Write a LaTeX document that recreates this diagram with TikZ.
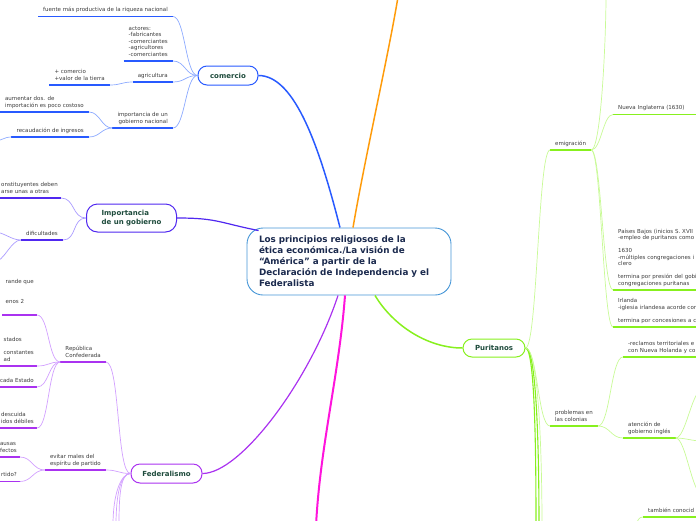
\documentclass[tikz,border=0pt]{standalone}
\usepackage{fontspec}
\setmainfont{DejaVu Sans}
\definecolor{rootblue}{RGB}{70,150,215}
\definecolor{rootnavy}{RGB}{27,42,78}
\definecolor{nodegreen}{RGB}{30,75,60}
\definecolor{leafgray}{RGB}{60,60,60}
\definecolor{comblue}{RGB}{40,90,255}
\definecolor{comlight}{RGB}{140,170,255}
\definecolor{govindigo}{RGB}{80,40,240}
\definecolor{govlight}{RGB}{170,155,255}
\definecolor{fedpurple}{RGB}{170,50,240}
\definecolor{fedlight}{RGB}{210,160,255}
\definecolor{purgreen}{RGB}{135,240,30}
\definecolor{purlight}{RGB}{200,250,150}
\definecolor{linkorange}{RGB}{255,155,10}
\definecolor{linkmagenta}{RGB}{255,20,220}

\begin{document}
\begin{tikzpicture}[x=1pt,y=-1pt,
  leaf/.style={inner xsep=5pt,inner ysep=2.5pt,align=left,text=leafgray,
    font=\fontsize{5.5}{6.5}\selectfont,execute at end node=\strut},
  leftcut/.style={leaf,anchor=south east,inner xsep=3pt},
  branchbox/.style={draw,fill=white,line width=1pt,rounded corners=9pt,minimum height=19pt,
    text=nodegreen,font=\fontsize{7}{9}\selectfont\bfseries},
  rootbox/.style={draw=rootblue,fill=white,line width=0.9pt,rounded corners=16pt,
    minimum width=204pt,minimum height=67pt,text width=180pt,inner xsep=12pt,align=left,
    text=rootnavy,font=\fontsize{8.8}{11}\selectfont\bfseries},
  ul/.style={line width=1.8pt},
  conn/.style={line width=0.7pt},
  mainline/.style={line width=1.5pt},
  lcurve/.style={to path={.. controls +(-#1,0) and +(#1,0) .. (\tikztotarget) \tikztonodes}},
  lcurve/.default=12,
  rcurve/.style={to path={.. controls +(#1,0) and +(-#1,0) .. (\tikztotarget) \tikztonodes}},
  rcurve/.default=12]
\useasboundingbox (0,0) rectangle (696,520);
\clip (0,0) rectangle (696,520);

%--- nodo centrale ---
\node[rootbox] (root) at (349,261.5) {Los principios religiosos de la\\ética económica./La visión de\\“América” a partir de la\\Declaración de Independencia y el\\Federalista};

%--- comercio ---
\node[branchbox,draw=comblue,minimum width=60pt] (comercio) at (228,75.5) {comercio};
\node[leaf,anchor=south east] (fuente) at (173,16.5) {fuente más productiva de la riqueza nacional};
\node[leaf,anchor=south east] (actores) at (173,61) {actores:\\-fabricantes\\-comerciantes\\-agricultores\\-comerciantes};
\node[leaf,anchor=south east] (agricultura) at (173,82) {agricultura};
\node[leaf,anchor=south east] (tierra) at (110,85) {+ comercio\\+valor de la tierra};
\node[leaf,anchor=south east,align=right] (gobnac) at (173,128) {importancia de un\\gobierno nacional};
\node[leaf,anchor=south east] (arancel) at (89,112) {aumentar dos. de\\importación es poco costoso};
\node[leaf,anchor=south east] (recaudacion) at (89,137) {recaudación de ingresos};
\coordinate (recaudOut) at (-6,141);

\foreach \leafname in {fuente,actores,agricultura,tierra,gobnac,arancel,recaudacion}
  \draw[ul,comblue] (\leafname.south west) -- (\leafname.south east);
\foreach \leafname in {fuente,actores,agricultura,gobnac}
  \draw[conn,comlight] (comercio.west) to[lcurve] (\leafname.south east);
\draw[conn,comlight] (agricultura.south west) to[lcurve=11] (tierra.south east);
\draw[conn,comlight] (gobnac.south west) to[lcurve=11] (arancel.south east);
\draw[conn,comlight] (gobnac.south west) to[lcurve=11] (recaudacion.south east);
\draw[conn,comlight] (recaudacion.south west) to[lcurve=8] (recaudOut);

%--- importancia de un gobierno ---
\node[branchbox,draw=govindigo,minimum width=90pt,minimum height=28pt,rounded corners=11pt,align=left] (gobierno) at (131.5,218) {Importancia\\de un gobierno};
\node[leftcut] (constituyentes) at (61,198) {onstituyentes deben\\arse unas a otras};
\node[leaf,anchor=south east] (dificultades) at (63,240) {dificultades};
\coordinate (difUp) at (-6,232);
\coordinate (difDown) at (-6,262);

\foreach \leafname in {constituyentes,dificultades}{
  \draw[ul,govindigo] (\leafname.south west) -- (\leafname.south east);
  \draw[conn,govlight] (gobierno.west) to[lcurve=14] (\leafname.south east);
}
\draw[conn,govlight] (dificultades.south west) to[lcurve=10] (difUp);
\draw[conn,govlight] (dificultades.south west) to[lcurve=10] (difDown);

%--- federalismo ---
\node[branchbox,draw=fedpurple,minimum width=71pt] (federalismo) at (166.5,473.5) {Federalismo};
\node[leaf,anchor=south east] (confederada) at (106,362) {República\\Confederada};
\node[leftcut] (menos) at (37,315) {rande que\\[13.5pt]enos 2\\};
\node[leftcut] (stados) at (37,366) {stados\\[6.5pt]constantes\\ad};
\node[leftcut] (cadaestado) at (37,387) {cada Estado};
\node[leftcut] (descuida) at (37,428) {descuida\\idos débiles};
\node[leaf,anchor=south east] (partido) at (106,470) {evitar males del\\ espíritu de partido};
\node[leftcut] (ausas) at (20,457) {ausas\\fectos};
\node[leftcut] (rtido) at (20,481.5) {rtido?};
\coordinate (fedDownA) at (113,525);
\coordinate (fedDownB) at (116,525);
\coordinate (fedDownC) at (119,525);

\foreach \leafname in {confederada,menos,stados,cadaestado,descuida,partido,ausas,rtido}
  \draw[ul,fedpurple] (\leafname.south west) -- (\leafname.south east);
\draw[conn,fedlight] (federalismo.west) to[lcurve=14] (confederada.south east);
\draw[conn,fedlight] (federalismo.west) to[lcurve=12] (partido.south east);
\foreach \leafname in {menos,stados,cadaestado,descuida}
  \draw[conn,fedlight] (confederada.south west) to[lcurve=12] (\leafname.south east);
\foreach \leafname in {ausas,rtido}
  \draw[conn,fedlight] (partido.south west) to[lcurve=12] (\leafname.south east);
\foreach \downend in {fedDownA,fedDownB,fedDownC}
  \draw[conn,fedlight] (federalismo.west) .. controls +(-10,0) and +(0,-30) .. (\downend);

%--- puritanos ---
\node[branchbox,draw=purgreen,minimum width=62pt,minimum height=18pt] (puritanos) at (494,348) {Puritanos};
\node[leaf,anchor=south west] (emigracion) at (550,150) {emigración};
\node[leaf,anchor=south west,text width=85pt] (inglaterra) at (613,114.5) {Nueva Inglaterra (1630)};
\node[leaf,anchor=south west,text width=85pt] (bajos) at (613,290) {Países Bajos (inicios S. XVII\\-empleo de puritanos como\\[6.5pt]1630\\-múltiples congregaciones i\\clero\\[6.5pt]termina por presión del gobi\\congregaciones puritanas};
\node[leaf,anchor=south west,text width=85pt] (irlanda) at (613,327) {Irlanda\\-iglesia irlandesa acorde con\\[6.5pt]termina por concesiones a c};
\node[leaf,anchor=south west] (problemas) at (550,426) {problemas en\\las colonias};
\node[leaf,anchor=south west,text width=85pt] (reclamos) at (623,357) {-reclamos territoriales e\\con Nueva Holanda y co};
\node[leaf,anchor=south west] (atencion) at (623,438) {atención de\\gobierno inglés};
\node[leaf,anchor=south west,text width=60pt] (tambien) at (643,517) {también conocid};
\coordinate (emiUp) at (606,-4);
\coordinate (atUp) at (702,390);
\coordinate (atMid) at (702,441);
\coordinate (atLow) at (702,494);
\coordinate (tamFrom) at (630,530);
\coordinate (purDownA) at (536,526);
\coordinate (purDownB) at (539,526);
\coordinate (purDownC) at (542,526);

\foreach \leafname in {emigracion,inglaterra,bajos,irlanda,problemas,reclamos,atencion,tambien}
  \draw[ul,purgreen] (\leafname.south west) -- (\leafname.south east);
\draw[conn,purlight] (puritanos.east) to[rcurve=12] (emigracion.south west);
\draw[conn,purlight] (puritanos.east) to[rcurve=12] (problemas.south west);
\draw[conn,purlight] (emigracion.south east) .. controls +(10,0) and +(0,40) .. (emiUp);
\foreach \leafname in {inglaterra,bajos,irlanda}
  \draw[conn,purlight] (emigracion.south east) to[rcurve=10] (\leafname.south west);
\foreach \leafname in {reclamos,atencion}
  \draw[conn,purlight] (problemas.south east) to[rcurve=12] (\leafname.south west);
\foreach \downend in {atUp,atMid,atLow}
  \draw[conn,purlight] (atencion.south east) to[rcurve=10] (\downend);
\draw[conn,purlight] (tamFrom) to[rcurve=8] (tambien.south west);
\draw[line width=1.1pt,purgreen] (puritanos.east) .. controls +(10,0) and +(0,-60) .. (purDownA);
\draw[line width=1.1pt,purgreen] (puritanos.east) .. controls +(12,0) and +(0,-60) .. (purDownB);
\draw[conn,purlight] (puritanos.east) .. controls +(14,0) and +(0,-60) .. (purDownC);

%--- rami principali ---
\coordinate (orangeEnd) at (398,-3);
\coordinate (magentaEnd) at (316,526);
\draw[mainline,comblue] ([xshift=-9pt]root.north) .. controls +(-20,-78) and +(37,0) .. (comercio.east);
\draw[mainline,linkorange] ([xshift=4pt]root.north) .. controls +(12,-70) and +(-10,60) .. (orangeEnd);
\draw[line width=1.2pt,govindigo] ([shift={(12pt,-3pt)}]root.north west) .. controls +(-40,-8) and +(40,0) .. (gobierno.east);
\draw[line width=1.2pt,fedpurple] ([xshift=-11pt]root.south) .. controls +(-28,85) and +(38,0) .. (federalismo.east);
\draw[line width=2pt,linkmagenta] ([xshift=-4pt]root.south) .. controls +(-6,80) and +(4,-80) .. (magentaEnd);
\draw[mainline,purgreen] ([xshift=26pt]root.south) .. controls +(18,30) and +(-35,0) .. (puritanos.west);
\end{tikzpicture}
\end{document}
